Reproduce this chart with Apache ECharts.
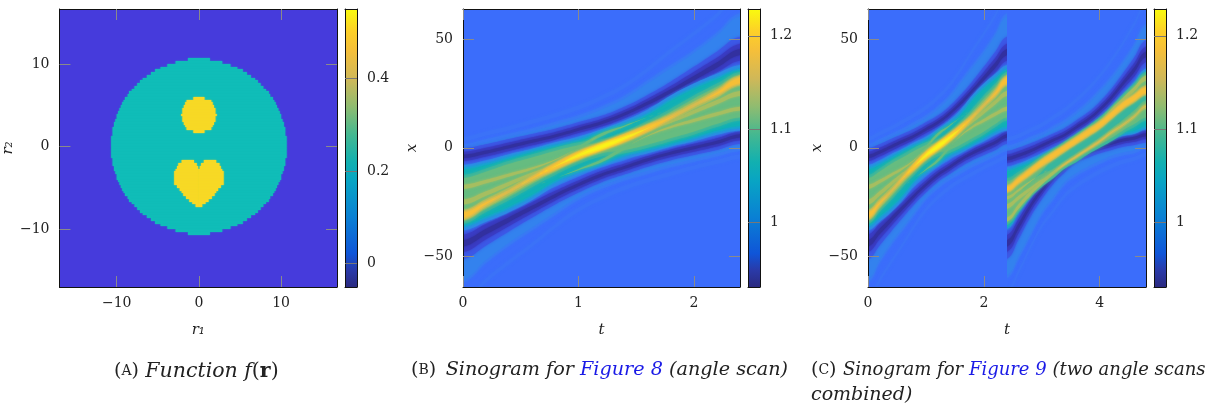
<!DOCTYPE html>
<html><head><meta charset="utf-8">
<style>html,body{margin:0;padding:0;background:#fff}#c{width:1220px;height:408px}</style>
<script src="https://cdn.jsdelivr.net/npm/echarts@6/dist/echarts.min.js"></script>
</head><body><div id="c"></div>
<script>
// ---------- Panel A: phantom, half-widths per pixel row (units of one pixel = 1/3 length unit)
const discHalf = [4,8.5,11.5,14,16,17.5,19,20.5,21.5,22.5,23.5,24.5,25.5,26,27,27.5,28,28.5,29,29.5,30,30,30.5,31,31,31.5,31.5,31.5,32,32,32,32,
                  32,32,32,32,31.5,31.5,31.5,31,31,30.5,30,30,29.5,29,28.5,28,27.5,27,26,25.5,24.5,23.5,22.5,21.5,20.5,19,17.5,16,14,11.5,8.5,4];
const spotTopRow = 14;
const spotHalf = [2,4.5,5,5.5,6,6,6.5,6,6,5.5,5,4.5,2];
const heartTopRow = 37;
const heartOuter = [6.3,7.5,8,8.5,9,9,9,9,9,8,7,6.3,5.7,4.7,3.5,2.4,1.2];
const heartNotch = [1.8,0.8,0.3,0,0,0,0,0,0,0,0,0,0,0,0,0,0];
const ticksA = [-10,0,10];
const cbarTicksA = [0,0.2,0.4];
const scanT = [0,0.2,0.4,0.6,0.8,1,1.2,1.4,1.6,1.8,2,2.2,2.4];
const ticksX = [-50,0,50];
const ticksTB = [0,1,2];
const ticksTC = [0,2,4];
const cbarTicksS = [1,1.1,1.2];
// first scan
const ridgeUp1 = [-4,-2,0.5,3,5.5,8.5,11.5,15.5,20.5,26,32,38,44];
const ridgeLo1 = [-44,-38.5,-33,-27.5,-22,-17,-12.5,-9,-5.5,-2.5,0,2.5,5.5];
const ridgeUpW1 = [3.8,3.6,3.5,3.3,3.2,3.2,3.2,3.4,3.8,4.4,5.2,6.2,7];
const ridgeLoW1 = [7.2,6.4,5.4,4.6,4,3.6,3.3,3.2,3.2,3.2,3.3,3.5,3.7];
const rippleUp1 = [1.5,4,6.5,9,12,15,19,24,31,38,45,53,62];
const rippleLo1 = [-62,-53,-45,-38,-31,-24,-19,-15,-12,-9,-6.5,-4,-1.5];
const fringeUp1 = [4,6.5,9,12,15,18.5,23,28.5,36,44.5,52.5,61,71];
const fringeLo1 = [-71,-61,-52.5,-44.5,-36,-28.5,-23,-18.5,-15,-12,-9,-6.5,-4];
const haloHi1 = [-8,-6,-3,-0.5,2.5,5,8.5,12.5,17.5,24,29.5,34,38];
const haloLo1 = [-38,-34,-29.5,-24,-17.5,-12.5,-8.5,-5,-2.5,0.5,3,6,8];
const tealHi1 = [-10,-8,-5,-2,0.5,3,7,10.5,15,21.5,27,31.5,35.5];
const tealLo1 = [-35.5,-31.5,-27,-21.5,-15,-10.5,-7,-3,-0.5,2,5,8,10];
const greenHi1 = [-14,-11,-7.5,-4.5,-1.5,1,2.5,6,11,16.5,22.5,28,33.5];
const greenLo1 = [-33.5,-28,-22.5,-16.5,-11,-6,-2.5,-1,1.5,4.5,7.5,11,14];
const mainLine1 = [-31,-25.5,-20,-14,-8.5,-3.5,0.5,4.5,9,14,19.5,25,31];
const mainOlive1 = [2.4,2,1.7,1.7,1.9,2.1,2,2.1,1.9,1.7,1.7,2,2.4];
const mainGold1 = [1.8,1.2,0.7,1,1.6,1.8,1.8,1.8,1.6,1,0.7,1.2,1.8];
const mainOrange1 = [1.2,0.4,0,0.2,1.1,1.4,1.5,1.4,1.1,0.2,0,0.4,1.2];
const mainYellow1 = [0,0,0,0,0.1,0.8,1.2,0.8,0.1,0,0,0,0];
const mainBright1 = [0,0,0,0,0,0.2,0.6,0.2,0,0,0,0,0];
const sideUp1 = [-18,-15.5,-12.5,-9.5,-5.5,0,6,10,14,18,22,26,30];
const sideLo1 = [-30,-26,-22,-18,-14,-10,-6,0,5.5,9.5,12.5,15.5,18];
const sideUpG1 = [1.2,1.2,1.2,1.1,1,0.8,0.7,0.3,0,0,0,0,0];
const sideLoG1 = [0,0,0,0,0,0.3,0.7,0.8,1,1.1,1.2,1.2,1.2];
const sideUpO1 = [0.9,0.8,0.7,0.5,0.2,0,0,0,0,0,0,0,0];
const sideLoO1 = [0,0,0,0,0,0,0,0,0.2,0.5,0.7,0.8,0.9];
const midLeft1 = [-25,-21,-16.5,-12,-8,-4,0,4,8,12,16,20,24];
const midRight1 = [-24,-20,-16,-12,-8,-4,0,4,8,12,16.5,21,25];
const midLeftW1 = [1.1,1,0.9,0.6,0.1,0,0,0,0,0,0,0,0];
const midRightW1 = [0,0,0,0,0,0,0,0,0.1,0.6,0.9,1,1.1];
// second scan
const ridgeUp2 = [-5,-3.5,-1.5,1,3.5,6,9.5,13,17.5,23,29.5,36,43];
const ridgeLo2 = [-44,-36,-27,-19.5,-13,-8,-4,-1.5,0.5,2,3.5,4.5,6];
const ridgeUpW2 = [3.5,3.5,3.5,3.2,3.1,3.1,3.1,3.3,3.6,4,4.6,5.6,6.5];
const ridgeLoW2 = [7,6,5,4.2,3.6,3.2,3,3,3,3,3,3.2,3.6];
const rippleUp2 = [1,2.5,5,7,10,13,17,21.5,27,33,40,48,57];
const rippleLo2 = [-60,-51,-41,-31,-24,-17,-13,-10,-7.5,-5,-3.5,-2.5,-0.5];
const fringeUp2 = [4,5.5,8,10.5,14,17.5,22,27,33,40,48,57,66];
const fringeLo2 = [-66,-57,-46,-36,-29,-22,-17.5,-14,-11,-8.5,-6.5,-5,-3];
const haloHi2 = [-9,-7.5,-5,-3,-0.5,2,5.5,9,13.5,18.5,24.5,30.5,36.5];
const haloLo2 = [-37.5,-30,-22.5,-15.5,-9.5,-5,-1.5,0.5,2.5,4,5.5,6.5,8.5];
const tealHi2 = [-11,-9,-7,-4.5,-2,0.5,4,7.5,11.5,16.5,22,28,34];
const tealLo2 = [-36,-28.5,-21,-14,-8,-3.5,0,2,4,5.5,7,8,10];
const greenHi2 = [-15.5,-12.5,-9,-5.2,-2,1.5,5,8.5,12.5,17.5,23,28,33.5];
const greenLo2 = [-34,-28,-21.5,-16.5,-12.5,-8,-5,-1.5,1.5,4.5,8,11,14];
const valley2 = [-26,-21,-16,-11.5,-7.5,-3.7,-0.2,3.2,7,11,15,19,23];
const valleyW2 = [0,0,0,0.5,2,2.2,2.2,2.2,2.2,2.2,2,1.5,1];
const mainLine2 = [-19,-15,-11,-7,-3.5,0,3.5,7,10.5,15,19.5,23,26.5];
const mainOlive2 = [1.8,1.8,1.9,2,2,1.9,1.9,2,2,2,2,2,2.2];
const mainGold2 = [1.3,1.3,1.4,1.5,1.5,1.4,1.4,1.5,1.5,1.5,1.5,1.5,1.7];
const mainOrange2 = [0.8,0.8,0.9,1,1,0.9,0.9,1,1,1,1,1,1.2];
const lowLine2 = [-33,-27,-21,-16,-11.5,-7.5,-4,-0.5,3,7,10.5,14.5,19];
const lowOlive2 = [0.8,1,1,0.9,0.8,0.7,0.7,0.8,0.8,0.9,0.9,0.9,1];
const lowGold2 = [0,0,0,0,0,0.3,0.4,0.4,0.4,0.3,0.2,0.2,0.3];
const topLine2 = [-19,-15,-11,-7,-3.5,0,3.5,7,11,17,22,27,32];
const topOlive2 = [0,0,0,0,0,0,0,0,0.4,0.8,0.9,1,1.1];
const fanA2 = [-27,-23,-19,-15,-12,-9,-6,-3,0,3,6,9,12];
const fanAW2 = [1,0.9,0.7,0.4,0,0,0,0,0,0,0,0,0];
const fanB2 = [-23,-19.5,-15.5,-12,-9,-6,-3,0,3,6,9,12,15];
const fanBW2 = [0.7,0.6,0.2,0,0,0,0,0,0,0,0,0,0];
// colours
const bgA='#463bdc', discC='#10bdb8', spotC='#f7d925';
const bgS='#3b6dfb';
const C={fringe:'#3b72f8',rip:'#3a78f5',rip2:'#3382ee',dk1:'#3c58e6',dk2:'#3a3cc4',dk3:'#32309f',halo:'#2e8ae6',halo2:'#1aa0d4',teal:'#10b0b6',tg:'#38b69e',green:'#66bc80',olive:'#a6be60',gold:'#d6bb50',orange:'#f6bf36',yellow:'#f8e126',bright:'#fbf318'};
const parulaStops=[[0,'#2b2a80'],[0.06,'#2a3aa8'],[0.12,'#0f55d8'],[0.25,'#0a80d4'],[0.38,'#08a4c4'],[0.45,'#12b0b0'],[0.55,'#45b890'],[0.65,'#90bc70'],[0.75,'#d0b858'],[0.85,'#f5bf3a'],[0.92,'#fdd028'],[1,'#f9fb0e']];

const band=(color,hi,lo)=>({color,hi,lo});
const tube=(color,c,w,f=1)=>({color,hi:c.map((v,i)=>v+w[i]*f),lo:c.map((v,i)=>v-w[i]*f)});
const grow=(a,d)=>a.map(v=>v+d);
function scanBands(s){return [
  tube(C.fringe,s.fu,s.fu.map(()=>1)),tube(C.fringe,s.fl,s.fl.map(()=>1)),
  band(C.rip,s.ru,s.u),band(C.rip,s.u,s.rl),
  band(C.rip2,grow(s.ru,-1.5),s.u),band(C.rip2,s.u,grow(s.rl,1.5)),
  tube(C.dk1,s.u,s.uw,1),tube(C.dk1,s.l,s.lw,1),
  tube(C.dk2,s.u,s.uw,0.55),tube(C.dk2,s.l,s.lw,0.55),
  tube(C.dk3,s.u,s.uw,0.2),tube(C.dk3,s.l,s.lw,0.2),
  band(C.halo,s.hh,s.hl),band(C.halo2,grow(s.th,1),grow(s.tl,-1)),band(C.teal,s.th,s.tl),
  band(C.tg,grow(s.gh,1.5),grow(s.gl,-1.5)),band(C.green,s.gh,s.gl)
];}
const scan1 = scanBands({fu:fringeUp1,fl:fringeLo1,u:ridgeUp1,l:ridgeLo1,uw:ridgeUpW1,lw:ridgeLoW1,ru:rippleUp1,rl:rippleLo1,hh:haloHi1,hl:haloLo1,th:tealHi1,tl:tealLo1,gh:greenHi1,gl:greenLo1}).concat([
  tube(C.green,sideUp1,sideUpG1),tube(C.green,sideLo1,sideLoG1),
  tube(C.olive,sideUp1,sideUpO1),tube(C.olive,sideLo1,sideLoO1),
  tube(C.olive,midLeft1,midLeftW1),tube(C.olive,midRight1,midRightW1),
  tube(C.olive,mainLine1,mainOlive1),tube(C.gold,mainLine1,mainGold1),tube(C.orange,mainLine1,mainOrange1),
  tube(C.yellow,mainLine1,mainYellow1),tube(C.bright,mainLine1,mainBright1)
]);
const scan2 = scanBands({fu:fringeUp2,fl:fringeLo2,u:ridgeUp2,l:ridgeLo2,uw:ridgeUpW2,lw:ridgeLoW2,ru:rippleUp2,rl:rippleLo2,hh:haloHi2,hl:haloLo2,th:tealHi2,tl:tealLo2,gh:greenHi2,gl:greenLo2}).concat([
  tube(C.tg,valley2,valleyW2),
  tube(C.olive,fanA2,fanAW2),tube(C.olive,fanB2,fanBW2),
  tube(C.olive,topLine2,topOlive2),
  tube(C.olive,lowLine2,lowOlive2),tube(C.gold,lowLine2,lowGold2),
  tube(C.olive,mainLine2,mainOlive2),tube(C.gold,mainLine2,mainGold2),tube(C.orange,mainLine2,mainOrange2)
]);

const serif='"DejaVu Serif"';
const grids=[],xAxes=[],yAxes=[],series=[];
const tickStyle={show:true,inside:true,length:11,lineStyle:{color:'#8a8a8a',width:1}};
const lineDark={show:true,onZero:false,lineStyle:{color:'#111',width:1}};
const lab={color:'#222',fontFamily:serif,fontSize:14};
const fmt=v=>String(v).replace('-','\u2212');
function frame(g,xr,yr,xt,yt,xName,yName,bg,yGap){
  const gi=grids.length;
  grids.push({left:g[0],top:g[1],width:g[2],height:g[3],show:true,backgroundColor:bg,borderWidth:0,containLabel:false});
  const xa=(pos,label)=>({type:'value',gridIndex:gi,position:pos,min:xr[0],max:xr[1],z:5,splitLine:{show:false},axisLine:lineDark,
    axisTick:Object.assign({customValues:xt},tickStyle),
    axisLabel:label?Object.assign({customValues:xt,formatter:fmt,margin:9,hideOverlap:false,showMinLabel:true,showMaxLabel:true},lab):{show:false},
    name:label?xName:'',nameLocation:'middle',nameGap:36,nameTextStyle:{color:'#222',fontFamily:serif,fontStyle:'italic',fontSize:15}});
  const ya=(pos,label)=>({type:'value',gridIndex:gi,position:pos,min:yr[0],max:yr[1],z:5,splitLine:{show:false},axisLine:lineDark,
    axisTick:Object.assign({customValues:yt},tickStyle),
    axisLabel:label?Object.assign({customValues:yt,formatter:fmt,margin:10,hideOverlap:false},lab):{show:false},
    name:label?yName:'',nameLocation:'middle',nameGap:yGap,nameRotate:90,nameTextStyle:{color:'#222',fontFamily:serif,fontStyle:'italic',fontSize:15}});
  xAxes.push(xa('bottom',true),xa('top',false));
  yAxes.push(ya('left',true),ya('right',false));
  return [xAxes.length-2,yAxes.length-2];
}
function hiddenGrid(g,xr,yr,bg){
  const gi=grids.length;
  grids.push({left:g[0],top:g[1],width:g[2],height:g[3],show:true,backgroundColor:bg,borderWidth:0});
  xAxes.push({type:'value',gridIndex:gi,min:xr[0],max:xr[1],show:false});
  yAxes.push({type:'value',gridIndex:gi,min:yr[0],max:yr[1],show:false});
  return [xAxes.length-1,yAxes.length-1];
}
function bandSeries(bands,ax,t0){
  const T=scanT;
  series.push({type:'custom',xAxisIndex:ax[0],yAxisIndex:ax[1],clip:true,silent:true,z:2,animation:false,
    encode:{x:0,y:1},data:bands.map(()=>[t0,0]),
    renderItem(p,api){
      const b=bands[p.dataIndex];
      const xs=[-0.3].concat(T,[2.7]);
      const hi=[b.hi[0]].concat(b.hi,[b.hi[12]]), lo=[b.lo[0]].concat(b.lo,[b.lo[12]]);
      const pts=[];
      xs.forEach((t,i)=>pts.push(api.coord([t0+t,hi[i]])));
      for(let i=xs.length-1;i>=0;i--)pts.push(api.coord([t0+xs[i],lo[i]]));
      return {type:'polygon',shape:{points:pts,smooth:0.45,smoothConstraint:false},style:{fill:b.color,shadowBlur:3,shadowColor:b.color},silent:true};
    }});
}
function cellSeries(cells,color,ax){
  series.push({type:'custom',xAxisIndex:ax[0],yAxisIndex:ax[1],clip:true,silent:true,z:2,animation:false,
    encode:{x:[0,1],y:[2,3]},data:cells,
    renderItem(p,api){
      const a=api.coord([api.value(0),api.value(2)]),b=api.coord([api.value(1),api.value(3)]);
      const y0=Math.round(a[1]),y1=Math.round(b[1]);
      return {type:'rect',shape:{x:a[0],y:y0,width:b[0]-a[0],height:y1-y0},style:{fill:color,shadowBlur:1.5,shadowColor:color},silent:true};
    }});
}
function colorbar(g,yr,ticks){
  const gi=grids.length;
  grids.push({left:g[0],top:g[1],width:g[2],height:g[3]});
  xAxes.push({type:'value',gridIndex:gi,min:0,max:1,position:'bottom',z:5,axisLine:lineDark,axisTick:{show:false},axisLabel:{show:false},splitLine:{show:false}});
  xAxes.push({type:'value',gridIndex:gi,min:0,max:1,position:'top',z:5,axisLine:lineDark,axisTick:{show:false},axisLabel:{show:false},splitLine:{show:false}});
  yAxes.push({type:'value',gridIndex:gi,min:yr[0],max:yr[1],position:'right',z:5,axisLine:lineDark,splitLine:{show:false},
    axisTick:{show:true,inside:true,length:g[2],customValues:ticks,lineStyle:{color:'#777',width:1}},
    axisLabel:Object.assign({customValues:ticks,margin:10,hideOverlap:false},lab)});
  yAxes.push({type:'value',gridIndex:gi,min:yr[0],max:yr[1],position:'left',z:5,axisLine:lineDark,axisTick:{show:false},axisLabel:{show:false},splitLine:{show:false}});
  const fill=new echarts.graphic.LinearGradient(0,1,0,0,parulaStops.map(s=>({offset:s[0],color:s[1]})));
  series.push({type:'custom',xAxisIndex:xAxes.length-2,yAxisIndex:yAxes.length-2,silent:true,z:2,animation:false,clip:true,
    encode:{x:0,y:1},data:[[0,yr[0]]],
    renderItem(p,api){
      const a=api.coord([0,yr[1]]),b=api.coord([1,yr[0]]);
      return {type:'rect',shape:{x:a[0],y:a[1],width:b[0]-a[0],height:b[1]-a[1]},style:{fill}};
    }});
}
// Panel A
const yA=[-17,16.65], cell=1/3;
const axA=frame([59,9,278,278],[-16.97,16.8],yA,ticksA,ticksA,'r\u2081','r\u2082',bgA,34);
const rowTop=n=>(32-n)*cell, rowBot=n=>(31-n)*cell;
cellSeries(discHalf.map((w,n)=>[-w*cell,w*cell,rowTop(n),rowBot(n)]),discC,axA);
cellSeries(spotHalf.map((w,i)=>[-w*cell,w*cell,rowTop(spotTopRow+i),rowBot(spotTopRow+i)]),spotC,axA);
const heartCells=[];
heartOuter.forEach((w,i)=>{const n=heartTopRow+i,q=heartNotch[i];
  heartCells.push([-w*cell,-q*cell,rowTop(n),rowBot(n)],[q*cell,w*cell,rowTop(n),rowBot(n)]);});
cellSeries(heartCells,spotC,axA);
colorbar([345,9,12,278],[-0.0507,0.55],cbarTicksA);
// Panel B
const yS=[-64,63.8];
const axB=frame([463,9,277,278],[0,2.4],yS,ticksTB,ticksX,'t','x',bgS,31);
bandSeries(scan1,axB,0);
colorbar([748,9,12,278],[0.931,1.2287],cbarTicksS);
// Panel C
const axC=frame([868,9,278,278],[0,4.8],yS,ticksTC,ticksX,'t','x',bgS,31);
bandSeries(scan1,hiddenGrid([868,9,139,278],[0,2.4],yS,bgS),0);
bandSeries(scan2,hiddenGrid([1007,9,139,278],[2.4,4.8],yS,bgS),2.4);
colorbar([1154,9,12,278],[0.931,1.2287],cbarTicksS);

function capRich(fs){
  const base={fontFamily:serif,fontWeight:'normal',fontSize:fs,color:'#222'};
  return {r:base,i:Object.assign({},base,{fontStyle:'italic'}),
    n:Object.assign({},base,{fontSize:19}),sc:Object.assign({},base,{fontSize:14}),g:Object.assign({},base,{fontSize:10}),
    b:Object.assign({},base,{fontWeight:'bold'}),l:Object.assign({},base,{fontStyle:'italic',color:'#1a1ae6'})};
}
const cap=(text,left,top,fs)=>({text,left,top,padding:0,textStyle:{rich:capRich(fs),fontSize:fs,fontWeight:'normal'}});
const option={animation:false,backgroundColor:'#fff',
  title:[
    cap('{n|(}{sc|A}{n|)}{g|  }{i|Function f}{r|(}{b|r}{r|)}',114,361,20.5),
    cap('{n|(}{sc|B}{n|)}{g|   }{i|Sinogram for }{l|Figure 8}{i| (angle scan)}',411,361,19.2),
    cap('{n|(}{sc|C}{n|)}{g|  }{i|Sinogram for }{l|Figure 9}{i| (two angle scans}',811,361,18),
    cap('{i|combined)}',811,386,19)
  ],
  grid:grids,xAxis:xAxes,yAxis:yAxes,series};
echarts.init(document.getElementById('c'),null,{renderer:'canvas'}).setOption(option);
</script></body></html>
